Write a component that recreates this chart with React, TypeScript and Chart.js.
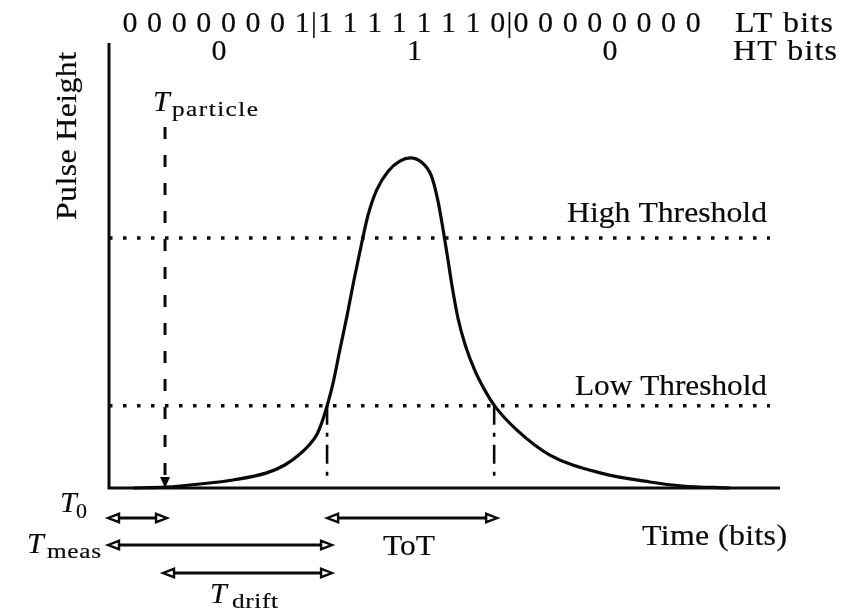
import React, { useEffect, useRef } from "react";
import { Chart, registerables } from "chart.js";

Chart.register(...registerables);

// ---- data (time in arbitrary units 0..100, pulse height 0..100) ----
const timeValues = [3.6, 8.35, 13.6, 18.5, 23.5, 26.2, 28.46, 29.96, 31.0, 31.74, 32.5, 33.4, 34.4, 35.5, 36.5, 37.6, 38.6, 39.9, 41.6, 43.4, 44.9, 46.5, 48.0, 49.0, 49.8, 50.4, 51.1, 52.0, 53.1, 54.5, 56.0, 57.5, 60.8, 65.7, 73.2, 80.6, 85.5, 92.5];
const pulseHeights = [0, 0.2, 0.9, 1.8, 3.4, 5.17, 7.64, 9.89, 12.1, 14.8, 18.43, 23.6, 31.0, 38.9, 46.7, 54.6, 61.3, 67.0, 71.2, 73.5, 74.2, 73.3, 70.3, 64.7, 58.0, 52.4, 45.6, 38.2, 32.1, 26.5, 22.0, 18.4, 13.0, 7.4, 3.4, 1.35, 0.45, 0];

const highThreshold = 56.2;
const lowThreshold = 18.5;
const thresholdEnd = 98.5;
const tParticle = 8.35;
const tParticleTop = 81.1;
const tLowRise = 32.5;
const tLowFall = 57.4;

const ltBitGroups = [
  ["0", "0", "0", "0", "0", "0", "0", "1"],
  ["1", "1", "1", "1", "1", "1", "1", "0"],
  ["0", "0", "0", "0", "0", "0", "0", "0"],
];
const htBits = ["0", "1", "0"];

const SERIF = "'Liberation Serif', 'Times New Roman', serif";
const INK = "#0a0a0a";

function drawText(
  ctx: CanvasRenderingContext2D,
  s: string,
  x: number,
  y: number,
  size: number,
  opts: { italic?: boolean; width?: number; align?: CanvasTextAlign; maxScale?: number } = {}
) {
  ctx.save();
  ctx.font = `${opts.italic ? "italic " : ""}${size}px ${SERIF}`;
  ctx.fillStyle = INK;
  ctx.strokeStyle = INK;
  ctx.lineWidth = 0.2;
  ctx.textBaseline = "alphabetic";
  ctx.textAlign = opts.align || "left";
  ctx.translate(x, y);
  if (opts.width && s.length > 1) {
    const w0 = ctx.measureText(s).width;
    const maxScale = opts.maxScale ?? 1.1;
    const sc = Math.min(maxScale, opts.width / w0);
    ctx.scale(sc, 1);
    const rest = opts.width / sc - w0;
    if (rest > 0) (ctx as any).letterSpacing = rest / (s.length - 1) + "px";
  }
  ctx.fillText(s, 0, 0);
  ctx.strokeText(s, 0, 0);
  ctx.restore();
}

function openHead(ctx: CanvasRenderingContext2D, tipX: number, y: number, dir: number) {
  const len = 11;
  const half = 4.2;
  ctx.beginPath();
  ctx.moveTo(tipX, y);
  ctx.lineTo(tipX + dir * len, y - half);
  ctx.lineTo(tipX + dir * len, y + half);
  ctx.closePath();
  ctx.fillStyle = "#fff";
  ctx.fill();
  ctx.lineWidth = 2.4;
  ctx.strokeStyle = INK;
  ctx.stroke();
}

function doubleArrow(ctx: CanvasRenderingContext2D, x1: number, x2: number, y: number) {
  ctx.save();
  ctx.strokeStyle = INK;
  ctx.lineWidth = 3;
  ctx.beginPath();
  ctx.moveTo(x1 + 10, y);
  ctx.lineTo(x2 - 10, y);
  ctx.stroke();
  openHead(ctx, x1, y, 1);
  openHead(ctx, x2, y, -1);
  ctx.restore();
}

const diagramPlugin = {
  id: "diagram",
  beforeDatasetsDraw(chart: any) {
    const { ctx, chartArea } = chart;
    ctx.save();
    ctx.strokeStyle = INK;
    ctx.lineWidth = 3;
    ctx.lineJoin = "miter";
    ctx.beginPath();
    ctx.moveTo(chartArea.left, chartArea.top);
    ctx.lineTo(chartArea.left, chartArea.bottom);
    ctx.lineTo(chartArea.right, chartArea.bottom);
    ctx.stroke();
    ctx.restore();
  },
  afterDatasetsDraw(chart: any) {
    const { ctx } = chart;
    const xs = chart.scales.x;
    const ys = chart.scales.y;
    const px = (v: number) => xs.getPixelForValue(v);
    const py = (v: number) => ys.getPixelForValue(v);

    // arrow head of T_particle
    ctx.save();
    ctx.fillStyle = INK;
    const ax = px(tParticle);
    const ay = py(0);
    ctx.beginPath();
    ctx.moveTo(ax, ay);
    ctx.lineTo(ax - 5, ay - 11);
    ctx.lineTo(ax + 5, ay - 11);
    ctx.closePath();
    ctx.fill();
    ctx.restore();

    // bottom interval arrows
    const x0 = px(0) - 1;
    const xp = px(tParticle) + 2;
    const xr = px(tLowRise);
    const xf = px(tLowFall) + 3;
    doubleArrow(ctx, x0, xp, 518);
    doubleArrow(ctx, xr, xf, 518);
    doubleArrow(ctx, x0, xr + 5, 545);
    doubleArrow(ctx, px(tParticle) - 2, xr + 5, 573);

    // labels
    drawText(ctx, "T", 60, 512, 30, { italic: true });
    drawText(ctx, "0", 76, 518, 22);
    drawText(ctx, "T", 27, 553, 30, { italic: true });
    drawText(ctx, "meas", 47, 558, 22, { width: 54, maxScale: 1.15 });
    drawText(ctx, "T", 210, 603, 30, { italic: true });
    drawText(ctx, "drift", 232, 608, 22, { width: 46, maxScale: 1.15 });
    drawText(ctx, "T", 153, 111, 30, { italic: true });
    drawText(ctx, "particle", 172, 116, 22, { width: 86, maxScale: 1.15 });
    drawText(ctx, "ToT", 383, 555, 29, { width: 52 });
    drawText(ctx, "Time (bits)", 642, 545, 29, { width: 145 });
    drawText(ctx, "High Threshold", 567, 222, 29, { width: 200 });
    drawText(ctx, "Low Threshold", 575, 395, 29, { width: 192 });

    ctx.save();
    ctx.translate(76, 220);
    ctx.rotate(-Math.PI / 2);
    drawText(ctx, "Pulse Height", 0, 0, 29, { width: 168 });
    ctx.restore();

    // top bit rows
    const spacing = 24.6;
    const groupStep = 195.5;
    ltBitGroups.forEach((g, gi) => {
      const start = 130 + gi * groupStep;
      g.forEach((b, i) => drawText(ctx, b, start + i * spacing, 32, 30, { align: "center" }));
      drawText(ctx, htBits[gi], start + ((g.length - 1) * spacing) / 2 + 3, 60, 30, { align: "center" });
      if (gi < ltBitGroups.length - 1) {
        const sep = (start + (g.length - 1) * spacing + 130 + (gi + 1) * groupStep) / 2;
        drawText(ctx, "|", sep, 32, 29, { align: "center" });
      }
    });
    drawText(ctx, "LT bits", 735, 32, 29, { width: 98 });
    drawText(ctx, "HT bits", 733, 60, 29, { width: 104 });
  },
};

export default function App() {
  const ref = useRef<HTMLCanvasElement | null>(null);
  useEffect(() => {
    if (!ref.current) return;
    const pulse = timeValues.map((t, i) => ({ x: t, y: pulseHeights[i] }));
    const chart = new Chart(ref.current, {
      type: "scatter",
      data: {
        datasets: [
          {
            data: [{ x: 0, y: highThreshold }, { x: thresholdEnd, y: highThreshold }],
            showLine: true,
            borderColor: INK,
            borderWidth: 3.5,
            borderDash: [3.5, 10.5],
            pointRadius: 0,
            clip: false,
          },
          {
            data: [{ x: 0, y: lowThreshold }, { x: thresholdEnd, y: lowThreshold }],
            showLine: true,
            borderColor: INK,
            borderWidth: 3.5,
            borderDash: [3.5, 10.5],
            pointRadius: 0,
            clip: false,
          },
          {
            data: [{ x: tParticle, y: tParticleTop }, { x: tParticle, y: 2 }],
            showLine: true,
            borderColor: INK,
            borderWidth: 3,
            borderDash: [12, 16],
            pointRadius: 0,
            clip: false,
          },
          {
            data: [{ x: tLowRise, y: lowThreshold }, { x: tLowRise, y: 1 }],
            showLine: true,
            borderColor: INK,
            borderWidth: 2.6,
            borderDash: [19, 8, 4, 8],
            pointRadius: 0,
            clip: false,
          },
          {
            data: [{ x: tLowFall, y: lowThreshold }, { x: tLowFall, y: 1 }],
            showLine: true,
            borderColor: INK,
            borderWidth: 2.6,
            borderDash: [19, 8, 4, 8],
            pointRadius: 0,
            clip: false,
          },
          {
            data: pulse,
            showLine: true,
            borderColor: INK,
            borderWidth: 3.2,
            cubicInterpolationMode: "monotone",
            pointRadius: 0,
            clip: false,
          },
        ],
      },
      options: {
        animation: false,
        responsive: true,
        maintainAspectRatio: false,
        events: [],
        layout: { padding: { left: 109, right: 82, top: 43, bottom: 122 } },
        scales: {
          x: { type: "linear", min: 0, max: 100, display: false },
          y: { type: "linear", min: 0, max: 100, display: false },
        },
        plugins: { legend: { display: false }, tooltip: { enabled: false } },
      },
      plugins: [diagramPlugin],
    } as any);
    return () => chart.destroy();
  }, []);
  return (
    <div style={{ position: "absolute", left: 0, top: 0, width: 862, height: 610, background: "#fff" }}>
      <canvas ref={ref} />
    </div>
  );
}
